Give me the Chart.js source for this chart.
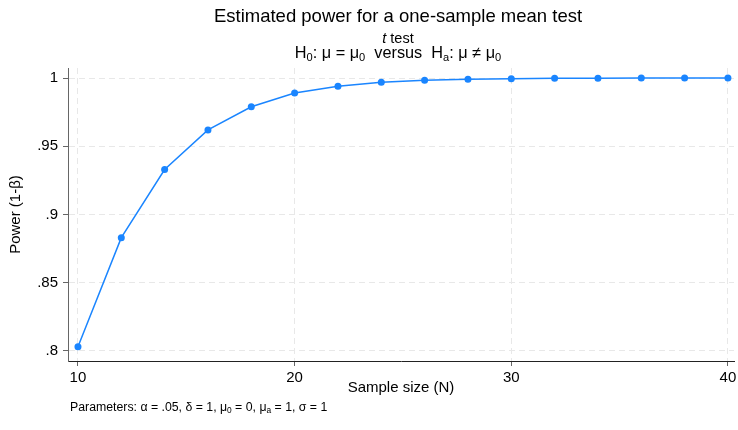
<!DOCTYPE html>
<html lang="en">
<head>
    <meta charset="UTF-8">
    <title>Estimated power for a one-sample mean test</title>
    <script src="https://cdn.jsdelivr.net/npm/chart.js"></script>
    <style>
        body { margin: 0; background: #fff; }
        #powerChart { display: block; }
    </style>
</head>
<body>
    <canvas id="powerChart" width="738" height="430"></canvas>

    <script>
        // Values
        const sampleSizes = [10, 12, 14, 16, 18, 20, 22, 24, 26, 28, 30, 32, 34, 36, 38, 40];
        const powerValues = [0.803, 0.883, 0.933, 0.962, 0.979, 0.989, 0.994, 0.997, 0.9984, 0.9992,
                             0.9996, 0.9998, 0.9999, 1.0, 1.0, 1.0];
        const xTicks = [10, 20, 30, 40];
        const yTicks = [0.8, 0.85, 0.9, 0.95, 1];
        const yTickLabels = ['.8', '.85', '.9', '.95', '1'];

        const FONT = '"Liberation Sans", Arial, Helvetica, sans-serif';
        const LINE_BLUE = '#1a85ff';

        // draws a line made of pieces, some italic or subscript
        function drawRich(ctx, parts, x, y, size, align) {
            const fontFor = p => (p.italic ? 'italic ' : '') + (p.sub ? size * 0.68 : size) + 'px ' + FONT;
            let total = 0;
            parts.forEach(p => {
                ctx.font = fontFor(p);
                total += ctx.measureText(p.text).width;
            });
            let cx = align === 'center' ? x - total / 2 : x;
            ctx.textAlign = 'left';
            ctx.textBaseline = 'alphabetic';
            parts.forEach(p => {
                ctx.font = fontFor(p);
                ctx.fillText(p.text, cx, p.sub ? y + size * 0.18 : y);
                cx += ctx.measureText(p.text).width;
            });
        }

        const headerText = {
            id: 'headerText',
            afterDraw(chart) {
                const ctx = chart.ctx;
                const mid = 398;
                ctx.save();
                ctx.fillStyle = '#000';
                drawRich(ctx, [{ text: 'Estimated power for a one-sample mean test' }], mid, 22, 18.5, 'center');
                drawRich(ctx, [{ text: 't', italic: true }, { text: ' test' }], mid, 43, 14.5, 'center');
                drawRich(ctx, [
                    { text: 'H' }, { text: '0', sub: true }, { text: ': \u03bc = \u03bc' }, { text: '0', sub: true },
                    { text: '  versus  H' }, { text: 'a', sub: true }, { text: ': \u03bc \u2260 \u03bc' }, { text: '0', sub: true }
                ], mid, 58, 16.3, 'center');
                drawRich(ctx, [
                    { text: 'Parameters: \u03b1 = .05, \u03b4 = 1, \u03bc' }, { text: '0', sub: true },
                    { text: ' = 0, \u03bc' }, { text: 'a', sub: true }, { text: ' = 1, \u03c3 = 1' }
                ], 70, 411, 12.3, 'left');
                ctx.restore();
            }
        };

        const ctx = document.getElementById('powerChart').getContext('2d');
        const powerChart = new Chart(ctx, {
            type: 'line',
            data: {
                datasets: [{
                    data: sampleSizes.map((n, i) => ({ x: n, y: powerValues[i] })),
                    borderColor: LINE_BLUE,
                    backgroundColor: LINE_BLUE,
                    borderWidth: 1.5,
                    pointRadius: 3.5,
                    pointBorderWidth: 0,
                    tension: 0,
                    clip: false
                }]
            },
            options: {
                responsive: false,
                animation: false,
                layout: { padding: { top: 68, right: 0, bottom: 30, left: 0 } },
                plugins: {
                    legend: { display: false },
                    tooltip: { enabled: false }
                },
                scales: {
                    x: {
                        type: 'linear',
                        min: 9.54,
                        max: 40.28,
                        afterBuildTicks: s => { s.ticks = xTicks.map(v => ({ value: v })); },
                        afterFit: s => { s.height = 39; s.paddingLeft = 0; s.paddingRight = 0; },
                        grid: { color: '#e8e8e8', tickColor: '#666', tickLength: 5 },
                        border: { color: '#222', dash: [6, 4] },
                        ticks: { color: '#000', font: { family: FONT, size: 15 }, padding: 3, maxRotation: 0, autoSkip: false },
                        title: { display: true, text: 'Sample size (N)', color: '#000', font: { family: FONT, size: 15 }, padding: { top: 0, bottom: 3 } }
                    },
                    y: {
                        min: 0.7926,
                        max: 1.0074,
                        afterBuildTicks: s => { s.ticks = yTicks.map(v => ({ value: v })); },
                        afterFit: s => { s.width = 68; s.paddingTop = 0; s.paddingBottom = 0; },
                        grid: { color: '#e8e8e8', tickColor: '#666', tickLength: 5 },
                        border: { color: '#666', dash: [6, 4] },
                        ticks: {
                            color: '#000', font: { family: FONT, size: 15 }, padding: 5,
                            callback: (v, i) => yTickLabels[i]
                        },
                        title: { display: true, text: 'Power (1-\u03b2)', color: '#000', font: { family: FONT, size: 15 }, padding: { top: 7, bottom: 0 } }
                    }
                }
            },
            plugins: [headerText]
        });
    </script>
</body>
</html>
